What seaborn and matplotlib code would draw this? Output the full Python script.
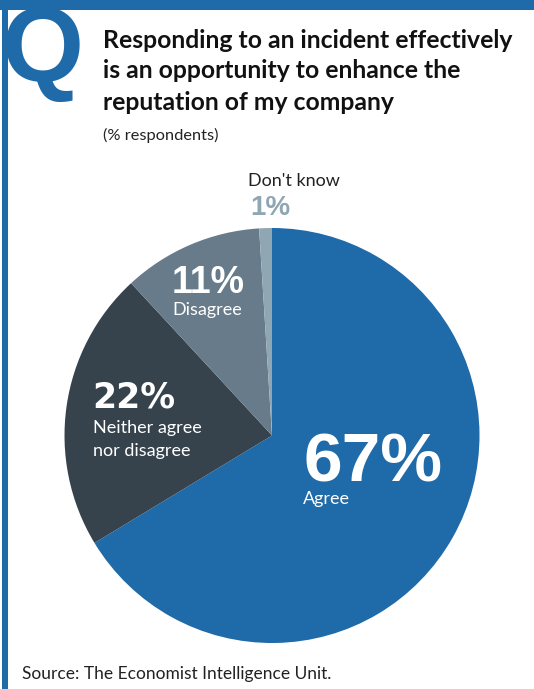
import matplotlib
matplotlib.use("Agg")
import matplotlib.pyplot as plt
from matplotlib.patches import Rectangle
import seaborn as sns

# Survey answers (% respondents)
categories = ["Agree", "Neither agree\nnor disagree", "Disagree", "Don't know"]
shares = [67, 22, 11, 1]
colors = ["#1f6aa8", "#36434d", "#687b8a", "#8fa6b3"]

title_lines = ["Responding to an incident effectively",
               "is an opportunity to enhance the",
               "reputation of my company"]
subtitle = "(% respondents)"
source = "Source: The Economist Intelligence Unit."

sns.set_theme(style="white")
plt.rcParams["font.family"] = ["Lato", "DejaVu Sans"]

W, H = 534, 689
fig = plt.figure(figsize=(W / 100, H / 100), dpi=100)
fig.patch.set_facecolor("white")


def fx(px):
    return px / W


def fy(py):
    return 1 - py / H


def lines_at(x, baselines, lines, **kw):
    for b, s in zip(baselines, lines):
        fig.text(fx(x), fy(b), s, ha="left", va="baseline", **kw)


BLUE = "#1f6aa8"
# frame: top band and left rule
fig.add_artist(Rectangle((0, fy(10)), 1, 10 / H, transform=fig.transFigure,
                         color=BLUE, lw=0))
fig.add_artist(Rectangle((fx(2), 0), 6 / W, 1, transform=fig.transFigure,
                         color=BLUE, lw=0))

# big "Q" badge
fig.text(fx(2), fy(81), "Q", color=BLUE, fontsize=76, fontweight="black",
         family=["Liberation Sans", "DejaVu Sans"], ha="left", va="baseline")

lines_at(103, [48, 78.5, 110], title_lines, fontsize=17.8,
         fontweight="bold", color="#111111")
fig.text(fx(103), fy(140), subtitle, fontsize=11.8, color="#222222",
         ha="left", va="baseline")

# pie
cx, cy, r = 272, 435.5, 207.5
ax = fig.add_axes([fx(cx - r), fy(cy + r), 2 * r / W, 2 * r / H])
ax.pie(shares, colors=colors, startangle=90, counterclock=False,
       wedgeprops=dict(linewidth=0))
ax.set_xlim(-1, 1)
ax.set_ylim(-1, 1)
ax.set_aspect("equal")
ax.axis("off")

num_font = ["Liberation Sans", "DejaVu Sans"]
wide_font = ["DejaVu Sans"]

# value labels
fig.text(fx(303), fy(482), f"{shares[0]}%", color="white", fontsize=50,
         fontweight="bold", family=num_font, ha="left", va="baseline")
lines_at(303, [504], [categories[0]], color="white", fontsize=13)

fig.text(fx(92), fy(408), f"{shares[1]}%", color="white", fontsize=25,
         fontweight="bold", family=wide_font, ha="left", va="baseline")
lines_at(93, [433, 456], categories[1].split("\n"), color="white",
         fontsize=13)

fig.text(fx(172), fy(293), f"{shares[2]}%", color="white", fontsize=27,
         fontweight="bold", family=num_font, ha="left", va="baseline")
lines_at(172, [315], [categories[2]], color="white", fontsize=13)

lines_at(248, [186], [categories[3]], color="#222222", fontsize=13)
fig.text(fx(250), fy(215), f"{shares[3]}%", color=colors[3], fontsize=20,
         fontweight="bold", family=num_font, ha="left", va="baseline")

fig.text(fx(22), fy(679), source, fontsize=12.5, color="#222222",
         ha="left", va="baseline")

fig.savefig("out.png", dpi=100, facecolor="white")
